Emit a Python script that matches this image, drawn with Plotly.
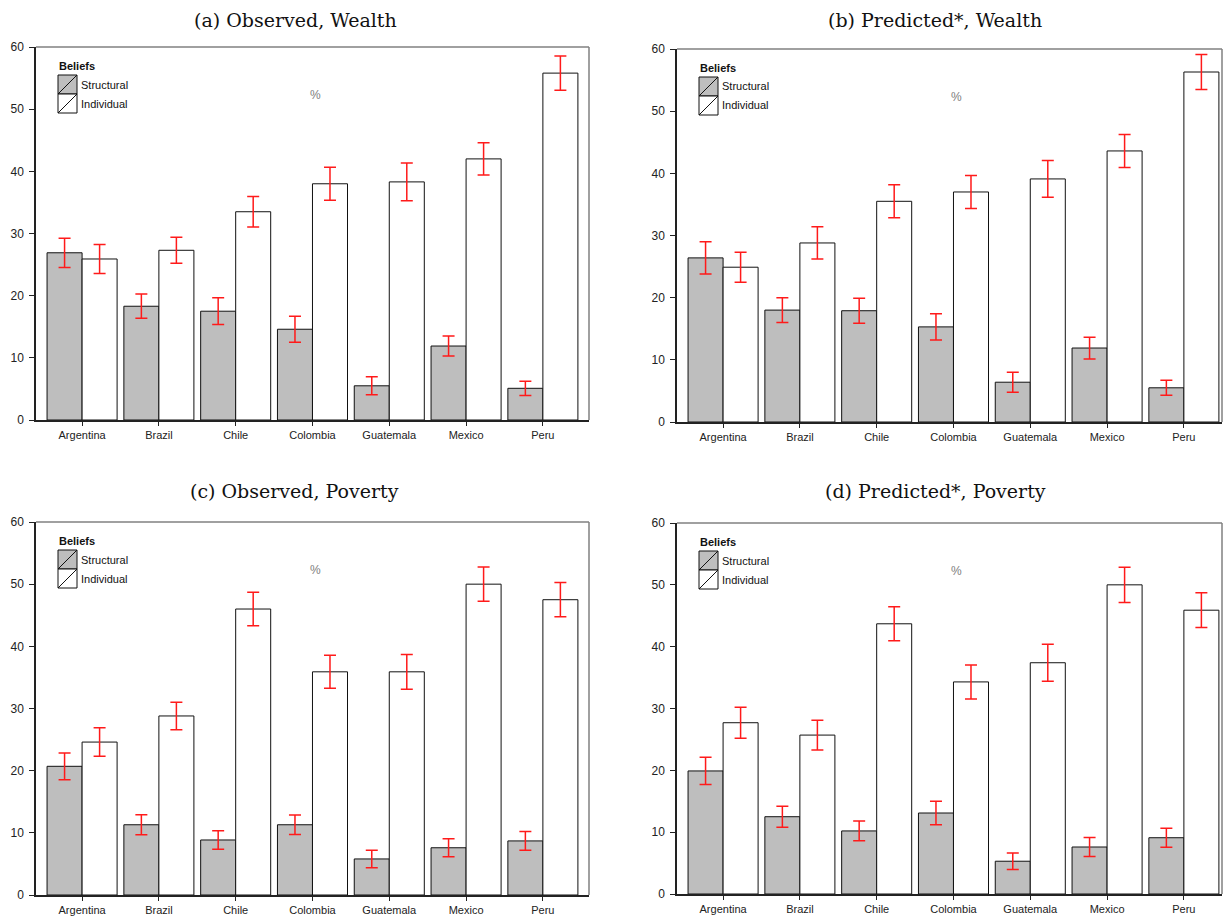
import plotly.graph_objects as go

countries = ["Argentina", "Brazil", "Chile", "Colombia", "Guatemala", "Mexico", "Peru"]

# (a) Observed, Wealth
obs_wealth_struct = [26.9, 18.3, 17.5, 14.6, 5.5, 11.9, 5.1]
obs_wealth_struct_err = [2.35, 1.95, 2.15, 2.1, 1.45, 1.6, 1.15]
obs_wealth_indiv = [25.9, 27.3, 33.5, 38.0, 38.3, 42.0, 55.8]
obs_wealth_indiv_err = [2.35, 2.1, 2.45, 2.65, 3.05, 2.6, 2.75]

# (b) Predicted*, Wealth
pred_wealth_struct = [26.4, 18.0, 17.9, 15.3, 6.4, 11.9, 5.5]
pred_wealth_struct_err = [2.6, 2.0, 2.0, 2.1, 1.6, 1.75, 1.2]
pred_wealth_indiv = [24.9, 28.8, 35.5, 37.0, 39.1, 43.6, 56.3]
pred_wealth_indiv_err = [2.4, 2.6, 2.65, 2.65, 2.95, 2.65, 2.8]

# (c) Observed, Poverty
obs_pov_struct = [20.7, 11.3, 8.85, 11.3, 5.8, 7.6, 8.7]
obs_pov_struct_err = [2.15, 1.6, 1.5, 1.55, 1.4, 1.45, 1.5]
obs_pov_indiv = [24.6, 28.8, 46.0, 35.9, 35.9, 50.0, 47.5]
obs_pov_indiv_err = [2.3, 2.2, 2.7, 2.65, 2.8, 2.75, 2.75]

# (d) Predicted*, Poverty
pred_pov_struct = [19.9, 12.5, 10.2, 13.1, 5.3, 7.6, 9.1]
pred_pov_struct_err = [2.2, 1.7, 1.6, 1.9, 1.35, 1.55, 1.55]
pred_pov_indiv = [27.7, 25.7, 43.7, 34.3, 37.4, 50.0, 45.9]
pred_pov_indiv_err = [2.5, 2.4, 2.75, 2.75, 3.0, 2.85, 2.8]

titles = ["(a) Observed, Wealth", "(b) Predicted*, Wealth",
          "(c) Observed, Poverty", "(d) Predicted*, Poverty"]
series_names = ["Structural", "Individual"]
legend_title = "Beliefs"
y_ticks = [0, 10, 20, 30, 40, 50, 60]

panels = [
    (obs_wealth_struct, obs_wealth_struct_err, obs_wealth_indiv, obs_wealth_indiv_err),
    (pred_wealth_struct, pred_wealth_struct_err, pred_wealth_indiv, pred_wealth_indiv_err),
    (obs_pov_struct, obs_pov_struct_err, obs_pov_indiv, obs_pov_indiv_err),
    (pred_pov_struct, pred_pov_struct_err, pred_pov_indiv, pred_pov_indiv_err),
]

W, H = 1232, 916
OFF = 8  # page body margin
CAT_PX = 76.8  # pixels per category
# screen pixel boxes: (left, right, top, bottom)
boxes = [(36, 589, 47, 420), (677, 1222, 49, 422), (36, 589, 522, 895), (677, 1222, 523, 894)]
title_pos = [(295, 16), (935, 16), (294, 490), (935, 490)]

SANS = "Liberation Sans, Arial, sans-serif"
GRAY = "#bebebe"
fig = go.Figure()

for i, (s, se, ind, ie) in enumerate(panels):
    k = "" if i == 0 else str(i + 1)
    xa, ya = "x" + k, "y" + k
    fig.add_trace(go.Bar(x=countries, y=s, name=series_names[0], xaxis=xa, yaxis=ya,
                         marker=dict(color=GRAY, line=dict(color="#111111", width=1)),
                         error_y=dict(type="data", array=se, color="#ff1a1a", thickness=1.5, width=6),
                         showlegend=False))
    fig.add_trace(go.Bar(x=countries, y=ind, name=series_names[1], xaxis=xa, yaxis=ya,
                         marker=dict(color="white", line=dict(color="#111111", width=1)),
                         error_y=dict(type="data", array=ie, color="#ff1a1a", thickness=1.5, width=6),
                         showlegend=False))
    l, r, t, b = [v - OFF for v in boxes[i]]
    x_hi = -0.6 + (r - l) / CAT_PX
    fig.layout["xaxis" + k] = dict(
        domain=[l / W, r / W], anchor=ya, range=[-0.6, x_hi], automargin=False,
        showline=True, linecolor="#222222", linewidth=1.5,
        ticks="outside", ticklen=4, tickcolor="#222222", tickwidth=1.2,
        tickfont=dict(family=SANS, size=11, color="#222222"),
        showgrid=False, zeroline=False, fixedrange=True)
    fig.layout["yaxis" + k] = dict(
        domain=[1 - b / H, 1 - t / H], anchor=xa, range=[0, 60], automargin=False,
        tickvals=y_ticks, showline=True, linecolor="#222222", linewidth=1.5,
        ticks="outside", ticklen=5, tickcolor="#222222", tickwidth=1.2, ticklabelstandoff=3,
        tickfont=dict(family=SANS, size=12, color="#222222"),
        showgrid=False, zeroline=False, fixedrange=True)

    xd, yd = xa + " domain", ya + " domain"
    # top and right gray frame
    fig.add_shape(type="line", xref=xd, yref=yd, x0=0, x1=1, y0=1, y1=1,
                  line=dict(color="#808080", width=1.5))
    fig.add_shape(type="line", xref=xd, yref=yd, x0=1, x1=1, y0=0, y1=1,
                  line=dict(color="#808080", width=1.5))

    # custom legend (pixel offsets from panel's top-left corner)
    pw, ph = r - l, b - t
    bx0, bx1 = 22 / pw, 41 / pw
    ys = [(1 - 47 / ph, 1 - 28 / ph), (1 - 66 / ph, 1 - 47 / ph)]
    fills = [GRAY, "white"]
    for (y0, y1), fc, nm in zip(ys, fills, series_names):
        fig.add_shape(type="rect", xref=xd, yref=yd, x0=bx0, x1=bx1, y0=y0, y1=y1,
                      fillcolor=fc, line=dict(color="#111111", width=1))
        fig.add_shape(type="line", xref=xd, yref=yd, x0=bx0, x1=bx1, y0=y0, y1=y1,
                      line=dict(color="#111111", width=1))
        fig.add_annotation(xref=xd, yref=yd, x=bx1 + 1.5 / pw, y=(y0 + y1) / 2,
                           text=nm, showarrow=False, xanchor="left", yanchor="middle",
                           font=dict(family=SANS, size=11, color="#111111"))
    fig.add_annotation(xref=xd, yref=yd, x=bx0 - 1.5 / pw, y=1 - 19 / ph,
                       text="<b>" + legend_title + "</b>",
                       showarrow=False, xanchor="left", yanchor="middle",
                       font=dict(family=SANS, size=11, color="#111111"))
    # % label
    fig.add_annotation(xref=xd, yref=yd, x=279 / pw, y=1 - 48 / ph, text="%", showarrow=False,
                       xanchor="center", yanchor="middle",
                       font=dict(family=SANS, size=12, color="#808080"))
    # panel title
    tx, ty = title_pos[i]
    fig.add_annotation(xref="paper", yref="paper", x=(tx - OFF) / W,
                       y=min(1.0, 1 - (ty - OFF - 11) / H),
                       text=titles[i], showarrow=False, xanchor="center", yanchor="top",
                       borderpad=0,
                       font=dict(family="DejaVu Serif, serif", size=19, color="#111111"))

fig.update_layout(
    width=W, height=H, margin=dict(l=0, r=0, t=0, b=0, autoexpand=False),
    paper_bgcolor="white", plot_bgcolor="white",
    barmode="group", bargap=0.088, bargroupgap=0,
    showlegend=False,
)

fig.write_html("out.html")
